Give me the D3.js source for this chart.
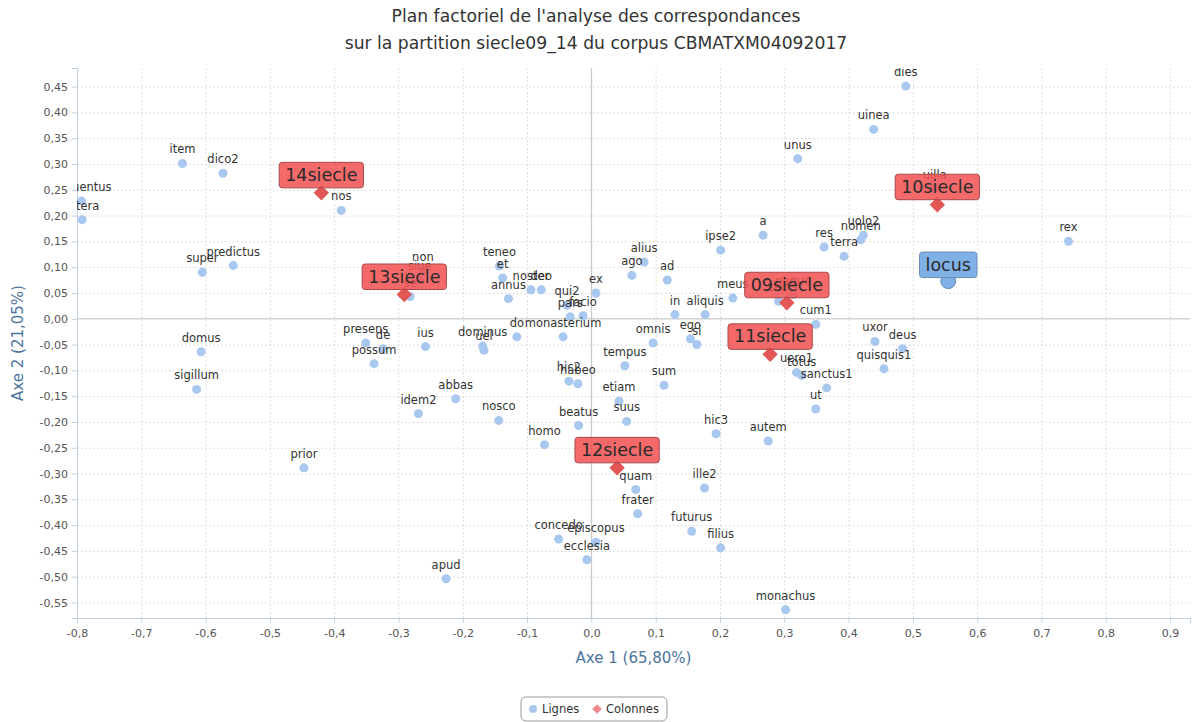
<!DOCTYPE html>
<html>
<head>
<meta charset="utf-8">
<script src="https://cdn.jsdelivr.net/npm/d3@7"></script>
<style>
  html, body { margin: 0; padding: 0; background: #fff; }
  svg { display: block; font-family: "Lucida Grande", "DejaVu Sans", Verdana, sans-serif; }
</style>
</head>
<body>
<svg id="chart" width="1194" height="722"></svg>
<script>
// Row profiles (Lignes): word forms and their coordinates on axes 1 and 2
const ligneNames = [
  "dies", "uinea", "unus", "item", "dico2", "conuentus", "littera", "nos", "uilla",
  "super", "predictus", "a", "ipse2", "res", "terra", "uolo2", "nomen", "rex", "locus",
  "non", "siue", "se", "ago", "alius", "ad", "teneo", "et", "annus", "noster", "deo",
  "qui2", "pars", "facio", "ex", "in", "aliquis", "meus", "sed", "neque", "cum1",
  "presens", "de", "possum", "ius", "dominus", "uel", "do", "monasterium", "omnis",
  "ego", "si", "uxor", "deus", "quisquis1", "uero1", "totus", "sanctus1", "ut",
  "domus", "sigillum", "tempus", "hic2", "habeo", "sum", "abbas", "idem2", "etiam",
  "nosco", "suus", "beatus", "hic3", "autem", "homo", "prior", "quam", "ille2",
  "frater", "futurus", "concedo", "episcopus", "filius", "ecclesia", "apud", "monachus"
];
const ligneX = [
  0.489, 0.439, 0.321, -0.636, -0.573, -0.793, -0.792, -0.389, 0.534,
  -0.605, -0.557, 0.267, 0.201, 0.362, 0.393, 0.423, 0.419, 0.742, 0.555,
  -0.262, -0.267, -0.282, 0.063, 0.082, 0.118, -0.143, -0.138, -0.129, -0.094, -0.078,
  -0.038, -0.033, -0.013, 0.007, 0.130, 0.177, 0.220, 0.291, 0.314, 0.349,
  -0.351, -0.324, -0.338, -0.258, -0.169, -0.167, -0.116, -0.044, 0.096,
  0.154, 0.164, 0.441, 0.484, 0.455, 0.319, 0.327, 0.366, 0.349,
  -0.607, -0.614, 0.052, -0.035, -0.021, 0.113, -0.211, -0.269, 0.043,
  -0.144, 0.055, -0.020, 0.194, 0.275, -0.073, -0.447, 0.069, 0.176,
  0.072, 0.156, -0.051, 0.007, 0.201, -0.007, -0.226, 0.302
];
const ligneY = [
  0.451, 0.367, 0.310, 0.301, 0.282, 0.228, 0.192, 0.210, 0.252,
  0.090, 0.103, 0.162, 0.133, 0.139, 0.121, 0.162, 0.153, 0.150, 0.073,
  0.092, 0.075, 0.043, 0.084, 0.110, 0.075, 0.102, 0.079, 0.039, 0.056, 0.056,
  0.026, 0.004, 0.006, 0.050, 0.008, 0.008, 0.040, 0.034, 0.047, -0.011,
  -0.047, -0.058, -0.087, -0.054, -0.053, -0.061, -0.035, -0.035, -0.047,
  -0.039, -0.050, -0.044, -0.058, -0.097, -0.104, -0.110, -0.134, -0.175,
  -0.064, -0.137, -0.091, -0.121, -0.126, -0.129, -0.155, -0.184, -0.160,
  -0.197, -0.199, -0.207, -0.223, -0.237, -0.244, -0.289, -0.331, -0.328,
  -0.378, -0.412, -0.427, -0.433, -0.444, -0.467, -0.504, -0.564
];
// The row profile shown with its own callout
const highlightedLigne = "locus";

// Column profiles (Colonnes): the centuries of the partition
const colonneNames = ["09siecle", "10siecle", "11siecle", "12siecle", "13siecle", "14siecle"];
const colonneX = [0.304, 0.538, 0.278, 0.040, -0.291, -0.420];
const colonneY = [0.031, 0.221, -0.069, -0.289, 0.047, 0.244];

// Axis ticks
const xTickValues = [-0.8, -0.7, -0.6, -0.5, -0.4, -0.3, -0.2, -0.1, 0, 0.1, 0.2, 0.3, 0.4, 0.5, 0.6, 0.7, 0.8, 0.9];
const yTickValues = [-0.55, -0.5, -0.45, -0.4, -0.35, -0.3, -0.25, -0.2, -0.15, -0.1, -0.05, 0,
  0.05, 0.1, 0.15, 0.2, 0.25, 0.3, 0.35, 0.4, 0.45];

const titleLines = [
  "Plan factoriel de l'analyse des correspondances",
  "sur la partition siecle09_14 du corpus CBMATXM04092017"
];
const xTitle = "Axe 1 (65,80%)";
const yTitle = "Axe 2 (21,05%)";
const legendLabels = ["Lignes", "Colonnes"];

// ---- layout ----
const plot = { left: 77, right: 1190, top: 68, bottom: 618 };
const dotFill = "#a9c8ef";
const redFill = "rgba(242, 82, 82, 0.86)";
const redStroke = "#a84848";
const diamondFill = "#e25656";
const blueFill = "#7fb0e6";
const blueStroke = "#6a8db5";
const axisTitleColor = "#4d759e";

const svg = d3.select("#chart");
const x = d3.scaleLinear().domain([-0.8, 0.931]).range([plot.left, plot.right]);
const y = d3.scaleLinear().domain([-0.58, 0.486]).range([plot.bottom, plot.top]);

const fmt = (digits) => (v) => d3.format("." + digits + "f")(v).replace(".", ",").replace("−", "-");

// clip for everything drawn inside the plot area
svg.append("defs").append("clipPath").attr("id", "plotClip")
  .append("rect")
  .attr("x", plot.left).attr("y", plot.top)
  .attr("width", plot.right - plot.left).attr("height", plot.bottom - plot.top);

// ---- title ----
svg.append("g").selectAll("text").data(titleLines).join("text")
  .attr("x", 596).attr("y", (d, i) => 22 + i * 27)
  .attr("text-anchor", "middle")
  .attr("font-size", 17.2).attr("fill", "#333")
  .text(d => d);

// ---- grid ----
const grid = svg.append("g");
grid.append("g")
  .attr("transform", `translate(0,${plot.bottom})`)
  .call(d3.axisBottom(x).tickValues(xTickValues).tickSize(-(plot.bottom - plot.top)).tickFormat(""))
  .call(g => g.select(".domain").remove())
  .call(g => g.selectAll("line").attr("stroke", "#d4d4d4").attr("stroke-dasharray", "1.5,2.5"));
grid.append("g")
  .attr("transform", `translate(${plot.left},0)`)
  .call(d3.axisLeft(y).tickValues(yTickValues).tickSize(-(plot.right - plot.left)).tickFormat(""))
  .call(g => g.select(".domain").remove())
  .call(g => g.selectAll("line").attr("stroke", "#d4d4d4").attr("stroke-dasharray", "1.5,2.5"));

// zero lines
svg.append("line")
  .attr("x1", x(0)).attr("x2", x(0)).attr("y1", plot.top).attr("y2", plot.bottom)
  .attr("stroke", "#c4c4c4").attr("stroke-width", 1);
svg.append("line")
  .attr("x1", plot.left).attr("x2", plot.right).attr("y1", y(0)).attr("y2", y(0))
  .attr("stroke", "#c4c4c4").attr("stroke-width", 1);

// ---- axes ----
const xAxis = svg.append("g")
  .attr("transform", `translate(0,${plot.bottom})`)
  .call(d3.axisBottom(x).tickValues(xTickValues).tickSize(5).tickPadding(6).tickFormat(fmt(1)));
const yAxis = svg.append("g")
  .attr("transform", `translate(${plot.left},0)`)
  .call(d3.axisLeft(y).tickValues(yTickValues).tickSize(5).tickPadding(4).tickFormat(fmt(2)));
[xAxis, yAxis].forEach(a => {
  a.select(".domain").attr("stroke", "#c0d0e0");
  a.selectAll(".tick line").attr("stroke", "#c0d0e0");
  a.selectAll(".tick text").attr("fill", "#555").attr("font-size", 11)
    .attr("font-family", "\"Lucida Grande\", \"DejaVu Sans\", Verdana, sans-serif");
});

svg.append("text")
  .attr("x", (plot.left + plot.right) / 2).attr("y", 663)
  .attr("text-anchor", "middle").attr("font-size", 15).attr("fill", axisTitleColor)
  .text(xTitle);
svg.append("text")
  .attr("transform", `translate(23,${(plot.top + plot.bottom) / 2}) rotate(-90)`)
  .attr("text-anchor", "middle").attr("font-size", 15).attr("fill", axisTitleColor)
  .text(yTitle);

// ---- data ----
const lignes = ligneNames.map((name, i) => ({ name, x: ligneX[i], y: ligneY[i] }));
const colonnes = colonneNames.map((name, i) => ({ name, x: colonneX[i], y: colonneY[i] }));
const plainLignes = lignes.filter(d => d.name !== highlightedLigne);
const hiLignes = lignes.filter(d => d.name === highlightedLigne);

const layer = svg.append("g").attr("clip-path", "url(#plotClip)");

// row points
layer.append("g").selectAll("circle").data(plainLignes).join("circle")
  .attr("cx", d => x(d.x)).attr("cy", d => y(d.y)).attr("r", 4.5)
  .attr("fill", dotFill);

// column diamonds
const diamond = d3.symbol().type(d3.symbolDiamond2).size(150);
layer.append("g").selectAll("path").data(colonnes).join("path")
  .attr("transform", d => `translate(${x(d.x)},${y(d.y)})`)
  .attr("d", diamond).attr("fill", diamondFill);

// row labels
layer.append("g").selectAll("text").data(plainLignes).join("text")
  .attr("x", d => x(d.x)).attr("y", d => y(d.y) - 10)
  .attr("text-anchor", "middle").attr("font-size", 11.5).attr("fill", "#333")
  .text(d => d.name);

// callout labels
function callouts(data, opts) {
  const g = layer.append("g").selectAll("g").data(data).join("g")
    .attr("transform", d => `translate(${x(d.x)},${y(d.y)})`);
  if (opts.marker) {
    g.append("circle").attr("r", 7.5).attr("cy", 0)
      .attr("fill", opts.fill).attr("stroke", opts.stroke);
  }
  const rect = g.append("rect");
  const txt = g.append("text")
    .attr("text-anchor", "middle").attr("font-size", 17.5).attr("fill", "#2a2a2a")
    .attr("y", -opts.gap - 7)
    .text(d => d.name);
  txt.each(function () {
    const w = this.getComputedTextLength() + 12;
    d3.select(this.parentNode).select("rect")
      .attr("x", -w / 2).attr("width", w)
      .attr("y", -opts.gap - 25.5).attr("height", 25.5)
      .attr("rx", 3)
      .attr("fill", opts.fill).attr("stroke", opts.stroke);
  });
}
callouts(colonnes, { fill: redFill, stroke: redStroke, gap: 5 });
callouts(hiLignes, { fill: blueFill, stroke: blueStroke, gap: 3.5, marker: true });

// ---- legend ----
const legend = svg.append("g");
legend.append("rect")
  .attr("x", 521).attr("y", 697).attr("width", 146).attr("height", 24).attr("rx", 5)
  .attr("fill", "#fff").attr("stroke", "#999");
legend.append("circle").attr("cx", 533).attr("cy", 709).attr("r", 4).attr("fill", dotFill);
legend.append("text").attr("x", 542).attr("y", 713).attr("font-size", 11.5).attr("fill", "#333")
  .text(legendLabels[0]);
legend.append("path")
  .attr("transform", "translate(597,709)")
  .attr("d", d3.symbol().type(d3.symbolDiamond2).size(60)).attr("fill", "#f08a8a");
legend.append("text").attr("x", 606).attr("y", 713).attr("font-size", 11.5).attr("fill", "#333")
  .text(legendLabels[1]);
</script>
</body>
</html>
